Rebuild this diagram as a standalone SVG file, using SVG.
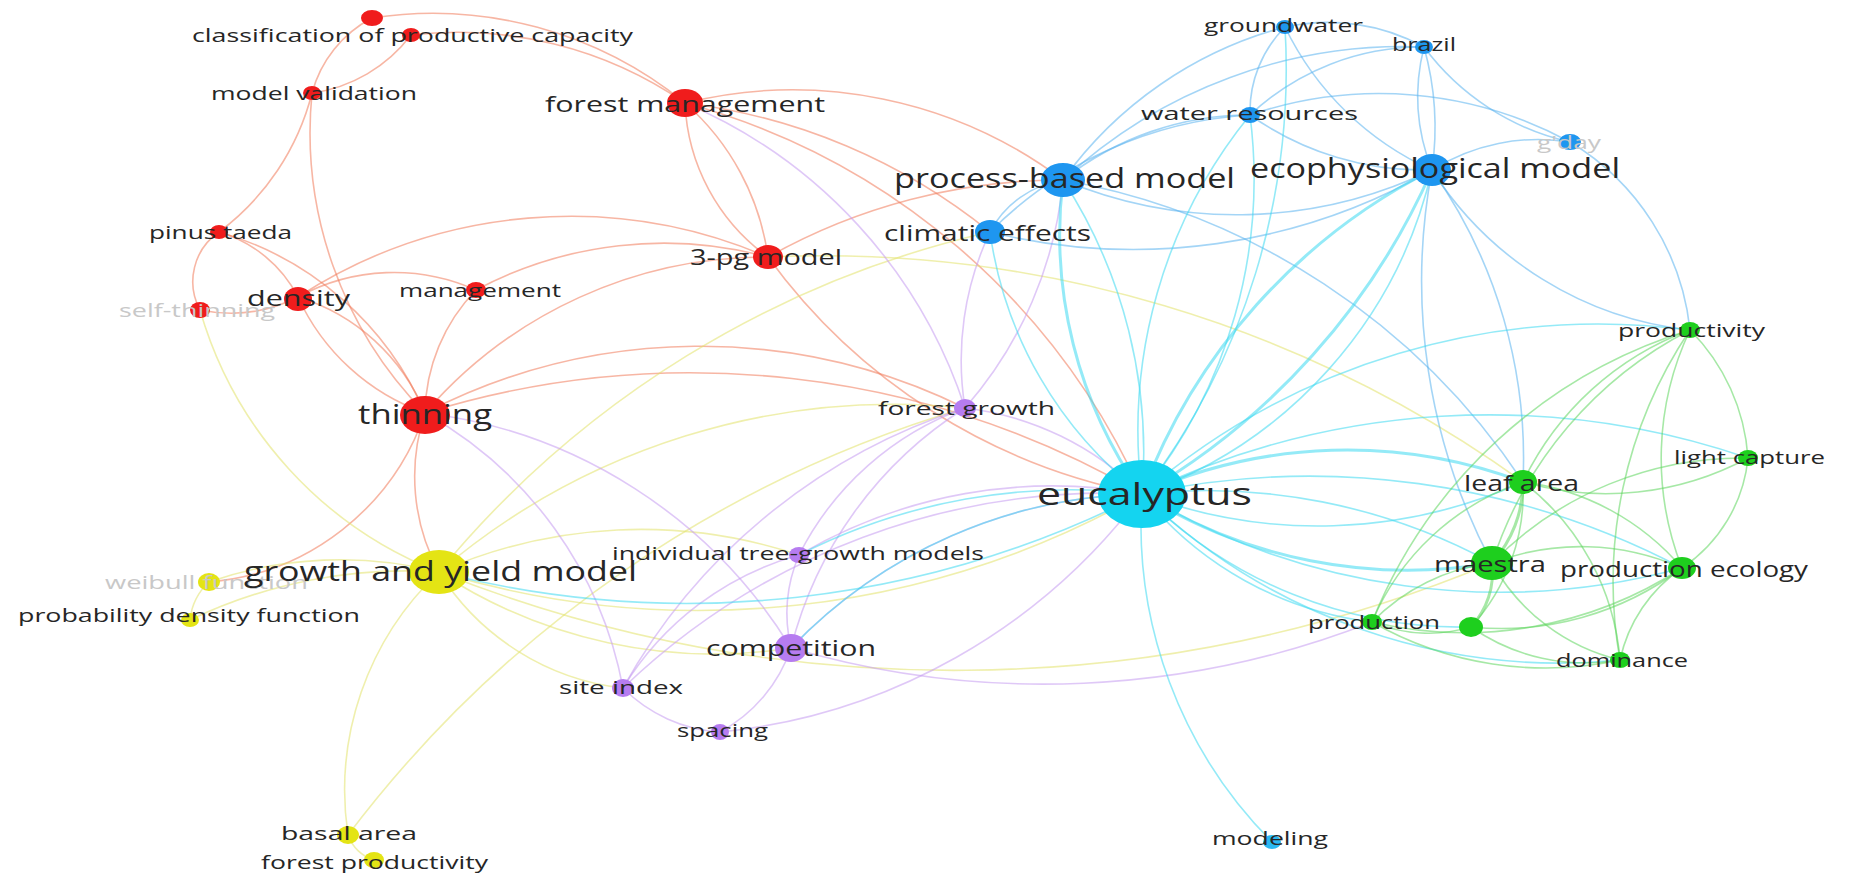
<svg xmlns="http://www.w3.org/2000/svg" width="1849" height="876" viewBox="0 0 1849 876">
<style>
.e{fill:none;stroke-width:1.6;stroke-opacity:.55}
.w{stroke-width:3}
.r{stroke:#f07a5a}.y{stroke:#e2e26a}.p{stroke:#c49af0}.b{stroke:#5ab2ee}.c{stroke:#3cd8f0}.g{stroke:#5cd65c}
.nr{fill:#f01c1c}.nb{fill:#1e96f0}.nc{fill:#14d4f0}.ng{fill:#1ecf1e}.ny{fill:#e4e414}.np{fill:#b67cf0}
text{font-family:"Open Sans","DejaVu Sans",sans-serif;fill:#262626;dominant-baseline:central}
.s{font-size:18px}.m{font-size:22px}.l{font-size:27px}.x{font-size:31px}
.f{fill:#c8c8c8}
</style>
<rect width="1849" height="876" fill="#fff"/>
<g id="connectors">
<g class="e r">
<path d="M372 18A400 400 0 0 1 685 103"/>
<path d="M411 35A400 400 0 0 1 685 103"/>
<path d="M372 18A120 120 0 0 0 312 93"/>
<path d="M411 35A150 150 0 0 1 312 93"/>
<path d="M312 93A250 250 0 0 1 219 232"/>
<path d="M312 93A400 400 0 0 0 425 413"/>
<path d="M219 232A60 60 0 0 0 200 310"/>
<path d="M219 232A130 130 0 0 1 298 297"/>
<path d="M219 232A320 320 0 0 1 425 413"/>
<path d="M200 310A150 150 0 0 0 298 297"/>
<path d="M298 297A200 200 0 0 1 425 413"/>
<path d="M298 297A220 220 0 0 0 425 413"/>
<path d="M298 297A200 200 0 0 1 476 290"/>
<path d="M298 297A500 500 0 0 1 768 257"/>
<path d="M476 290A180 180 0 0 0 425 413"/>
<path d="M476 290A400 400 0 0 1 768 257"/>
<path d="M685 103A250 250 0 0 1 768 257"/>
<path d="M685 103A200 200 0 0 0 768 257"/>
<path d="M685 103A450 450 0 0 1 1063 180"/>
<path d="M685 103A600 600 0 0 1 990 232"/>
<path d="M685 103A700 700 0 0 1 1142 494"/>
<path d="M768 257A600 600 0 0 1 1063 180"/>
<path d="M768 257A600 600 0 0 0 1142 494"/>
<path d="M425 413A600 600 0 0 1 965 408"/>
<path d="M425 413A900 900 0 0 1 1142 494"/>
<path d="M425 413A200 200 0 0 0 439 572"/>
<path d="M425 413A250 250 0 0 1 209 582"/>
<path d="M425 413A450 450 0 0 1 768 257"/>
</g>
<g class="e y">
<path d="M200 310A400 400 0 0 0 439 572"/>
<path d="M768 257A1200 1200 0 0 1 1523 482"/>
<path d="M439 572A400 400 0 0 0 209 582"/>
<path d="M439 572A500 500 0 0 0 190 620"/>
<path d="M209 582A60 60 0 0 0 190 620"/>
<path d="M439 572A300 300 0 0 0 348 835"/>
<path d="M348 835A1200 1200 0 0 1 965 408"/>
<path d="M348 835A40 40 0 0 0 374 860"/>
<path d="M439 572A900 900 0 0 0 1142 494"/>
<path d="M439 572A700 700 0 0 1 965 408"/>
<path d="M439 572A1000 1000 0 0 1 990 232"/>
<path d="M439 572A500 500 0 0 1 799 555"/>
<path d="M439 572A500 500 0 0 0 791 648"/>
<path d="M439 572A250 250 0 0 0 623 688"/>
<path d="M439 572A1400 1400 0 0 0 1492 563"/>
</g>
<g class="e p">
<path d="M685 103A500 500 0 0 1 965 408"/>
<path d="M425 413A500 500 0 0 1 791 648"/>
<path d="M425 413A400 400 0 0 1 623 688"/>
<path d="M965 408A300 300 0 0 0 799 555"/>
<path d="M965 408A400 400 0 0 0 791 648"/>
<path d="M965 408A600 600 0 0 0 623 688"/>
<path d="M965 408A300 300 0 0 1 1142 494"/>
<path d="M965 408A400 400 0 0 0 1063 180"/>
<path d="M965 408A300 300 0 0 1 990 232"/>
<path d="M799 555A150 150 0 0 0 791 648"/>
<path d="M799 555A500 500 0 0 1 1142 494"/>
<path d="M799 555A300 300 0 0 0 623 688"/>
<path d="M791 648A150 150 0 0 1 720 732"/>
<path d="M791 648A500 500 0 0 1 1142 494"/>
<path d="M791 648A900 900 0 0 0 1372 622"/>
<path d="M623 688A150 150 0 0 0 720 732"/>
<path d="M720 732A600 600 0 0 0 1142 494"/>
<path d="M623 688A700 700 0 0 1 1142 494"/>
</g>
<g class="e b">
<path d="M1063 180A300 300 0 0 1 1250 115"/>
<path d="M1063 180A400 400 0 0 1 1285 27"/>
<path d="M1063 180A450 450 0 0 0 1432 170"/>
<path d="M1063 180A100 100 0 0 0 990 232"/>
<path d="M1063 180A700 700 0 0 1 1523 482"/>
<path d="M1063 180A500 500 0 0 1 1424 47"/>
<path d="M990 232A600 600 0 0 0 1432 170"/>
<path d="M990 232A400 400 0 0 1 1250 115"/>
<path d="M1285 27A200 200 0 0 1 1424 47"/>
<path d="M1285 27A120 120 0 0 0 1250 115"/>
<path d="M1285 27A300 300 0 0 0 1432 170"/>
<path d="M1424 47A200 200 0 0 0 1432 170"/>
<path d="M1424 47A300 300 0 0 1 1432 170"/>
<path d="M1424 47A250 250 0 0 0 1570 142"/>
<path d="M1424 47A250 250 0 0 0 1250 115"/>
<path d="M1250 115A400 400 0 0 1 1570 142"/>
<path d="M1250 115A300 300 0 0 0 1432 170"/>
<path d="M1570 142A200 200 0 0 0 1432 170"/>
<path d="M1432 170A350 350 0 0 0 1690 330"/>
<path d="M1570 142A250 250 0 0 1 1690 330"/>
<path d="M1432 170A500 500 0 0 1 1523 482"/>
<path d="M1432 170A600 600 0 0 0 1492 563"/>
</g>
<g class="e c">
<path d="M1063 180A450 450 0 0 0 1142 494" class="w"/>
<path d="M1063 180A500 500 0 0 1 1142 494"/>
<path d="M990 232A400 400 0 0 0 1142 494"/>
<path d="M1285 27A700 700 0 0 1 1142 494"/>
<path d="M1250 115A500 500 0 0 0 1142 494"/>
<path d="M1250 115A500 500 0 0 1 1142 494"/>
<path d="M1432 170A600 600 0 0 0 1142 494" class="w"/>
<path d="M1432 170A700 700 0 0 1 1142 494" class="w"/>
<path d="M1432 170A450 450 0 0 1 1142 494"/>
<path d="M1142 494A450 450 0 0 0 1272 842"/>
<path d="M1142 494A500 500 0 0 1 1523 482" class="w"/>
<path d="M1142 494A500 500 0 0 0 1523 482"/>
<path d="M1142 494A500 500 0 0 0 1492 563" class="w"/>
<path d="M1142 494A600 600 0 0 1 1492 563"/>
<path d="M1142 494A700 700 0 0 0 1682 568"/>
<path d="M1142 494A800 800 0 0 1 1682 568"/>
<path d="M1142 494A350 350 0 0 0 1372 622"/>
<path d="M1142 494A450 450 0 0 0 1471 627"/>
<path d="M1142 494A600 600 0 0 0 1620 660"/>
<path d="M1142 494A800 800 0 0 1 1748 458"/>
<path d="M1142 494A700 700 0 0 1 1690 330"/>
<path d="M1142 494A600 600 0 0 0 799 555"/>
<path d="M1142 494A1000 1000 0 0 1 439 572"/>
<path d="M1142 494A500 500 0 0 0 791 648"/>
</g>
<g class="e g">
<path d="M1690 330A300 300 0 0 0 1523 482"/>
<path d="M1690 330A400 400 0 0 0 1492 563"/>
<path d="M1690 330A200 200 0 0 1 1748 458"/>
<path d="M1690 330A300 300 0 0 0 1682 568"/>
<path d="M1690 330A500 500 0 0 0 1372 622"/>
<path d="M1690 330A450 450 0 0 0 1620 660"/>
<path d="M1523 482A120 120 0 0 1 1492 563" class="w"/>
<path d="M1523 482A300 300 0 0 0 1748 458"/>
<path d="M1523 482A250 250 0 0 1 1682 568"/>
<path d="M1523 482A250 250 0 0 0 1372 622"/>
<path d="M1523 482A250 250 0 0 1 1620 660"/>
<path d="M1523 482A200 200 0 0 1 1471 627"/>
<path d="M1492 563A250 250 0 0 1 1682 568"/>
<path d="M1492 563A200 200 0 0 0 1372 622"/>
<path d="M1492 563A80 80 0 0 1 1471 627" class="w"/>
<path d="M1492 563A200 200 0 0 0 1620 660"/>
<path d="M1492 563A350 350 0 0 1 1748 458"/>
<path d="M1682 568A150 150 0 0 0 1620 660"/>
<path d="M1682 568A150 150 0 0 0 1748 458"/>
<path d="M1682 568A300 300 0 0 1 1471 627"/>
<path d="M1682 568A400 400 0 0 1 1372 622"/>
<path d="M1372 622A150 150 0 0 0 1471 627"/>
<path d="M1372 622A350 350 0 0 0 1620 660"/>
<path d="M1471 627A200 200 0 0 0 1620 660"/>
</g>
</g>
<g id="nodes">
<g id="n-class-top"><ellipse class="nr" cx="372" cy="18" rx="11" ry="8"/></g>
<g id="n-classification"><ellipse class="nr" cx="411" cy="35" rx="9" ry="7"/><text class="s" x="192" y="35" textLength="441" lengthAdjust="spacingAndGlyphs">classification of productive capacity</text></g>
<g id="n-model-validation"><ellipse class="nr" cx="312" cy="93" rx="9" ry="7"/><text class="s" x="211" y="93" textLength="206" lengthAdjust="spacingAndGlyphs">model validation</text></g>
<g id="n-forest-management"><ellipse class="nr" cx="685" cy="103" rx="18" ry="14"/><text class="m" x="545" y="103" textLength="280" lengthAdjust="spacingAndGlyphs">forest management</text></g>
<g id="n-pinus-taeda"><ellipse class="nr" cx="219" cy="232" rx="9" ry="7"/><text class="s" x="149" y="232" textLength="143" lengthAdjust="spacingAndGlyphs">pinus taeda</text></g>
<g id="n-self-thinning"><ellipse class="nr" cx="200" cy="310" rx="10" ry="8"/><text class="s f" x="119" y="310" textLength="156" lengthAdjust="spacingAndGlyphs">self-thinning</text></g>
<g id="n-density"><ellipse class="nr" cx="298" cy="299" rx="14" ry="12"/><text class="m" x="247" y="297" textLength="103" lengthAdjust="spacingAndGlyphs">density</text></g>
<g id="n-management"><ellipse class="nr" cx="476" cy="290" rx="10" ry="8"/><text class="s" x="399" y="290" textLength="162" lengthAdjust="spacingAndGlyphs">management</text></g>
<g id="n-3pg-model"><ellipse class="nr" cx="768" cy="257" rx="15" ry="12"/><text class="m" x="690" y="256" textLength="152" lengthAdjust="spacingAndGlyphs">3-pg model</text></g>
<g id="n-thinning"><ellipse class="nr" cx="425" cy="415" rx="25" ry="19"/><text class="l" x="358" y="413" textLength="134" lengthAdjust="spacingAndGlyphs">thinning</text></g>
<g id="n-groundwater"><ellipse class="nb" cx="1285" cy="27" rx="9" ry="7"/><text class="s" x="1204" y="25" textLength="159" lengthAdjust="spacingAndGlyphs">groundwater</text></g>
<g id="n-brazil"><ellipse class="nb" cx="1424" cy="47" rx="9" ry="7"/><text class="s" x="1392" y="44" textLength="64" lengthAdjust="spacingAndGlyphs">brazil</text></g>
<g id="n-water-resources"><ellipse class="nb" cx="1250" cy="115" rx="10" ry="8"/><text class="s" x="1141" y="113" textLength="217" lengthAdjust="spacingAndGlyphs">water resources</text></g>
<g id="n-gday"><ellipse class="nb" cx="1570" cy="142" rx="11" ry="8"/><text class="s f" x="1537" y="142" textLength="64" lengthAdjust="spacingAndGlyphs">g'day</text></g>
<g id="n-process-based-model"><ellipse class="nb" cx="1063" cy="180" rx="22" ry="17"/><text class="l" x="894" y="177" textLength="341" lengthAdjust="spacingAndGlyphs">process-based model</text></g>
<g id="n-ecophysiological-model"><ellipse class="nb" cx="1432" cy="170" rx="19" ry="16"/><text class="l" x="1250" y="167" textLength="370" lengthAdjust="spacingAndGlyphs">ecophysiological model</text></g>
<g id="n-climatic-effects"><ellipse class="nb" cx="990" cy="232" rx="15" ry="12"/><text class="m" x="884" y="232" textLength="207" lengthAdjust="spacingAndGlyphs">climatic effects</text></g>
<g id="n-modeling"><ellipse fill="#2ab8f2" cx="1272" cy="842" rx="9" ry="7"/><text class="s" x="1212" y="838" textLength="116" lengthAdjust="spacingAndGlyphs">modeling</text></g>
<g id="n-forest-growth"><ellipse class="np" cx="965" cy="408" rx="11" ry="9"/><text class="s" x="878" y="408" textLength="177" lengthAdjust="spacingAndGlyphs">forest growth</text></g>
<g id="n-individual-tree-growth-models"><ellipse class="np" cx="799" cy="555" rx="10" ry="8"/><text class="s" x="612" y="553" textLength="372" lengthAdjust="spacingAndGlyphs">individual tree-growth models</text></g>
<g id="n-competition"><ellipse class="np" cx="791" cy="648" rx="16" ry="14"/><text class="m" x="706" y="647" textLength="170" lengthAdjust="spacingAndGlyphs">competition</text></g>
<g id="n-site-index"><ellipse class="np" cx="623" cy="688" rx="11" ry="9"/><text class="s" x="559" y="687" textLength="124" lengthAdjust="spacingAndGlyphs">site index</text></g>
<g id="n-spacing"><ellipse class="np" cx="720" cy="732" rx="9" ry="8"/><text class="s" x="677" y="730" textLength="91" lengthAdjust="spacingAndGlyphs">spacing</text></g>
<g id="n-weibull-function"><ellipse class="ny" cx="209" cy="582" rx="11" ry="9"/><text class="s f" x="105" y="582" textLength="203" lengthAdjust="spacingAndGlyphs">weibull function</text></g>
<g id="n-probability-density-function"><ellipse class="ny" cx="190" cy="620" rx="9" ry="7"/><text class="s" x="18" y="615" textLength="342" lengthAdjust="spacingAndGlyphs">probability density function</text></g>
<g id="n-growth-and-yield-model"><ellipse class="ny" cx="439" cy="572" rx="30" ry="22"/><text class="l" x="244" y="570" textLength="393" lengthAdjust="spacingAndGlyphs">growth and yield model</text></g>
<g id="n-basal-area"><ellipse class="ny" cx="348" cy="835" rx="11" ry="9"/><text class="s" x="281" y="833" textLength="136" lengthAdjust="spacingAndGlyphs">basal area</text></g>
<g id="n-forest-productivity"><ellipse class="ny" cx="374" cy="860" rx="10" ry="8"/><text class="s" x="261" y="862" textLength="227" lengthAdjust="spacingAndGlyphs">forest productivity</text></g>
<g id="n-productivity"><ellipse class="ng" cx="1690" cy="330" rx="10" ry="8"/><text class="s" x="1618" y="330" textLength="147" lengthAdjust="spacingAndGlyphs">productivity</text></g>
<g id="n-light-capture"><ellipse class="ng" cx="1748" cy="458" rx="10" ry="8"/><text class="s" x="1674" y="457" textLength="151" lengthAdjust="spacingAndGlyphs">light capture</text></g>
<g id="n-production"><ellipse class="ng" cx="1372" cy="622" rx="10" ry="8"/><text class="s" x="1308" y="622" textLength="132" lengthAdjust="spacingAndGlyphs">production</text></g>
<g id="n-unlabeled"><ellipse class="ng" cx="1471" cy="627" rx="12" ry="10"/></g>
<g id="n-dominance"><ellipse class="ng" cx="1620" cy="660" rx="10" ry="8"/><text class="s" x="1556" y="660" textLength="132" lengthAdjust="spacingAndGlyphs">dominance</text></g>
<g id="n-leaf-area"><ellipse class="ng" cx="1523" cy="482" rx="14" ry="12"/><text class="m" x="1464" y="482" textLength="115" lengthAdjust="spacingAndGlyphs">leaf area</text></g>
<g id="n-maestra"><ellipse class="ng" cx="1492" cy="563" rx="21" ry="17"/><text class="m" x="1434" y="563" textLength="112" lengthAdjust="spacingAndGlyphs">maestra</text></g>
<g id="n-production-ecology"><ellipse class="ng" cx="1682" cy="568" rx="14" ry="11"/><text class="m" x="1560" y="568" textLength="248" lengthAdjust="spacingAndGlyphs">production ecology</text></g>
<g id="n-eucalyptus"><ellipse class="nc" cx="1142" cy="494" rx="44" ry="34"/><text class="x" x="1037" y="493" textLength="215" lengthAdjust="spacingAndGlyphs">eucalyptus</text></g>
</g>
</svg>
